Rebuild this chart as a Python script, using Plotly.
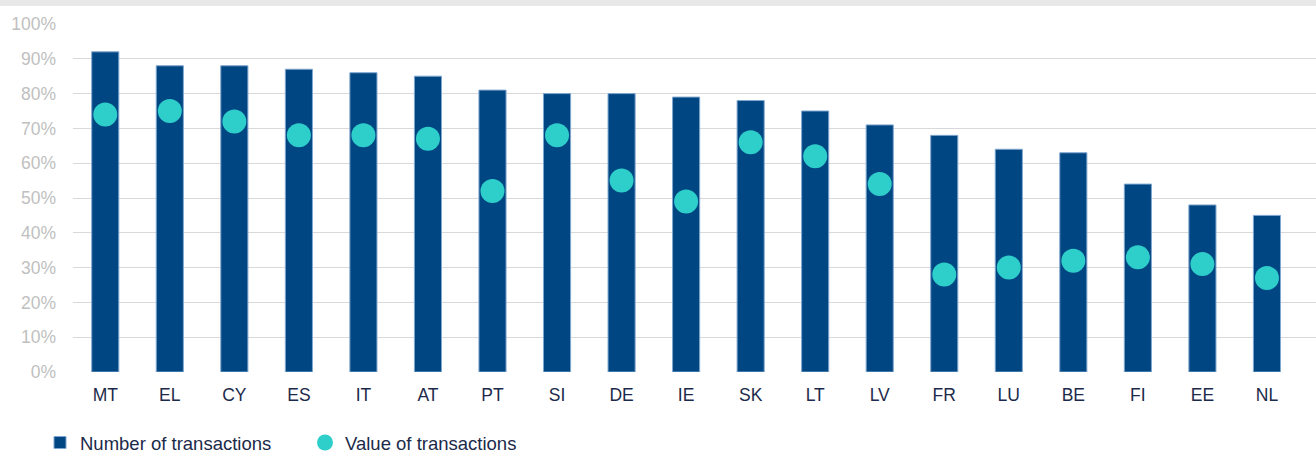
import plotly.graph_objects as go

countries = ["MT", "EL", "CY", "ES", "IT", "AT", "PT", "SI", "DE", "IE",
             "SK", "LT", "LV", "FR", "LU", "BE", "FI", "EE", "NL"]
number_of_transactions = [92, 88, 88, 87, 86, 85, 81, 80, 80, 79,
                          78, 75, 71, 68, 64, 63, 54, 48, 45]
value_of_transactions = [74, 75, 72, 68, 68, 67, 52, 68, 55, 49,
                         66, 62, 54, 28, 30, 32, 33, 31, 27]
y_ticks = [0, 10, 20, 30, 40, 50, 60, 70, 80, 90, 100]
y_tick_labels = [f"{v}%" for v in y_ticks]

W, H = 1316, 455
L, R, T, B = 73, 0, 24, 83
plot_w = W - L - R
plot_h = H - T - B

fig = go.Figure()
fig.add_trace(go.Bar(
    x=list(range(len(countries))), y=number_of_transactions,
    name="Number of transactions", width=0.42,
    marker=dict(color="#004682", line=dict(color="#7FA6CF", width=1)),
))
fig.add_trace(go.Scatter(
    x=list(range(len(countries))), y=value_of_transactions,
    name="Value of transactions", mode="markers",
    marker=dict(color="#2ECFCB", size=24, line=dict(width=0)),
))

fig.update_layout(
    width=W, height=H,
    margin=dict(l=L, r=R, t=T, b=B, pad=0, autoexpand=False),
    paper_bgcolor="white", plot_bgcolor="white",
    font=dict(family="Liberation Sans, Arial, sans-serif", size=17, color="#1B2A4A"),
    showlegend=True,
    legend=dict(orientation="h", x=(40 - L) / plot_w, xanchor="left",
                y=-(462 - 372) / plot_h, yanchor="bottom",
                font=dict(size=18.5, color="#1B2A4A"),
                entrywidth=220, entrywidthmode="pixels",
                itemwidth=30, bgcolor="rgba(0,0,0,0)"),
    shapes=[dict(type="rect", xref="paper", yref="paper",
                 x0=-L / plot_w, x1=1, y0=1 + (T - 6) / plot_h, y1=1 + T / plot_h,
                 fillcolor="#E8E8E8", line=dict(width=0), layer="above")],
)
fig.update_xaxes(
    range=[-0.5, 18.76], tickmode="array",
    tickvals=list(range(len(countries))), ticktext=countries,
    showgrid=False, zeroline=False, showline=False, ticks="",
    tickfont=dict(size=17.5, color="#1B2A4A"), ticklabelstandoff=10,
)
fig.update_yaxes(
    range=[0, 100], tickmode="array", tickvals=y_ticks, ticktext=y_tick_labels,
    showgrid=True, gridcolor="#D9D9D9", gridwidth=1, zeroline=False,
    showline=False, ticks="", tickfont=dict(size=17.5, color="#BFBFBF"),
    ticklabelstandoff=16,
)
fig.write_html(
    "out.html",
    config={"displayModeBar": False},
    post_script="document.body.style.margin='0px';document.body.style.overflow='hidden';",
)
